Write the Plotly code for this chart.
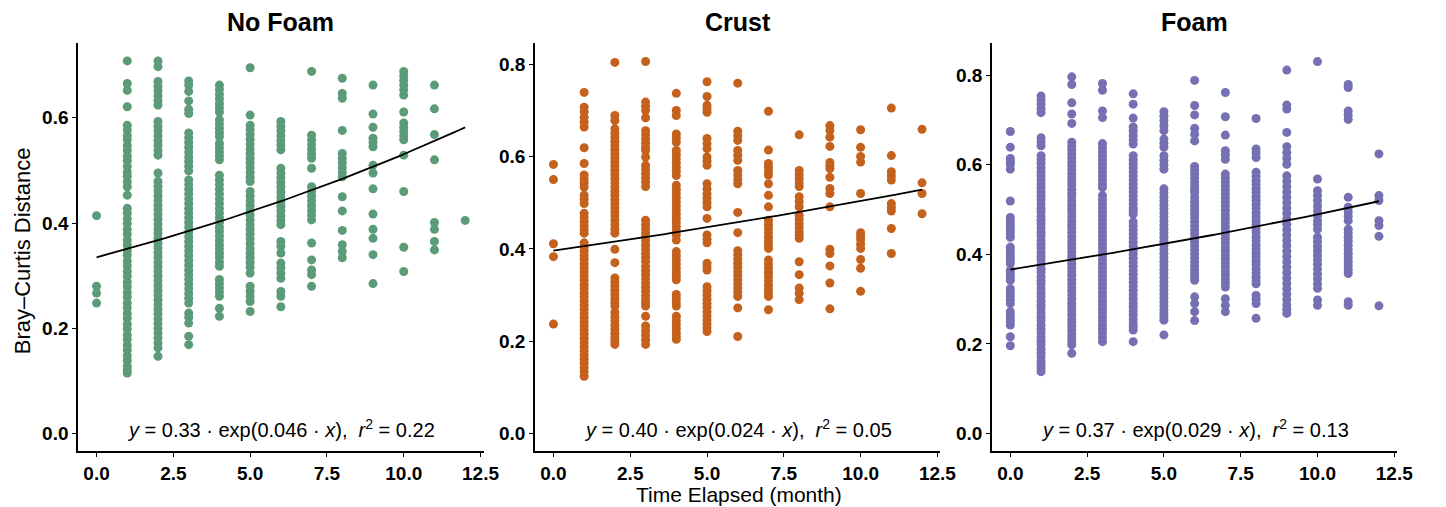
import numpy as np
import plotly.graph_objects as go

# ---------------- data ----------------
months = [0, 1, 2, 3, 4, 5, 6, 7, 8, 9, 10, 11, 12]

nofoam_dist = [
    [0.414, 0.280, 0.267, 0.248],
    [0.708, 0.665, 0.652, 0.621, 0.586, 0.577, 0.566, 0.558, 0.547, 0.538, 0.527, 0.519, 0.508, 0.497,
     0.489, 0.478, 0.469, 0.453, 0.428, 0.419, 0.408, 0.399, 0.388, 0.379, 0.368, 0.359, 0.348, 0.339,
     0.328, 0.319, 0.308, 0.299, 0.288, 0.279, 0.268, 0.259, 0.248, 0.239, 0.228, 0.219, 0.208, 0.199,
     0.188, 0.179, 0.168, 0.159, 0.148, 0.139, 0.128, 0.121, 0.115],
    [0.708, 0.697, 0.669, 0.660, 0.651, 0.642, 0.633, 0.624, 0.593, 0.584, 0.575, 0.566, 0.557, 0.548,
     0.538, 0.529, 0.495, 0.479, 0.470, 0.461, 0.452, 0.443, 0.434, 0.425, 0.416, 0.407, 0.398, 0.389,
     0.380, 0.371, 0.362, 0.353, 0.344, 0.335, 0.326, 0.317, 0.308, 0.299, 0.290, 0.281, 0.272, 0.263,
     0.254, 0.245, 0.236, 0.227, 0.218, 0.209, 0.200, 0.191, 0.182, 0.172, 0.163, 0.147],
    [0.670, 0.662, 0.650, 0.632, 0.616, 0.608, 0.571, 0.562, 0.553, 0.544, 0.535, 0.526, 0.517, 0.508,
     0.499, 0.482, 0.473, 0.464, 0.455, 0.446, 0.437, 0.428, 0.419, 0.410, 0.401, 0.392, 0.383, 0.374,
     0.365, 0.356, 0.347, 0.338, 0.329, 0.320, 0.311, 0.302, 0.293, 0.284, 0.275, 0.266, 0.257, 0.248,
     0.229, 0.221, 0.210, 0.185, 0.169],
    [0.662, 0.654, 0.645, 0.636, 0.627, 0.619, 0.611, 0.596, 0.588, 0.580, 0.572, 0.564, 0.551, 0.543,
     0.535, 0.527, 0.520, 0.491, 0.482, 0.473, 0.464, 0.455, 0.446, 0.437, 0.428, 0.419, 0.410, 0.401,
     0.392, 0.384, 0.375, 0.367, 0.359, 0.351, 0.343, 0.335, 0.326, 0.318, 0.293, 0.285, 0.277, 0.269,
     0.261, 0.238, 0.223],
    [0.695, 0.605, 0.586, 0.577, 0.568, 0.559, 0.550, 0.541, 0.532, 0.523, 0.514, 0.505, 0.496, 0.487,
     0.479, 0.460, 0.451, 0.442, 0.433, 0.424, 0.415, 0.406, 0.397, 0.388, 0.379, 0.370, 0.361, 0.352,
     0.343, 0.334, 0.325, 0.316, 0.305, 0.280, 0.270, 0.261, 0.251, 0.232],
    [0.593, 0.584, 0.575, 0.566, 0.557, 0.548, 0.539, 0.504, 0.495, 0.486, 0.477, 0.468, 0.459, 0.450,
     0.441, 0.432, 0.423, 0.414, 0.405, 0.397, 0.365, 0.356, 0.343, 0.324, 0.315, 0.305, 0.295, 0.270,
     0.261, 0.241],
    [0.688, 0.567, 0.558, 0.549, 0.540, 0.531, 0.523, 0.504, 0.469, 0.460, 0.451, 0.442, 0.433, 0.424,
     0.415, 0.406, 0.362, 0.330, 0.311, 0.302, 0.280],
    [0.675, 0.646, 0.637, 0.576, 0.532, 0.523, 0.514, 0.505, 0.496, 0.488, 0.450, 0.423, 0.386, 0.359,
     0.346, 0.334],
    [0.662, 0.607, 0.582, 0.561, 0.553, 0.545, 0.510, 0.495, 0.465, 0.417, 0.388, 0.371, 0.340, 0.285],
    [0.688, 0.680, 0.671, 0.662, 0.653, 0.643, 0.611, 0.590, 0.582, 0.574, 0.566, 0.558, 0.529, 0.460,
     0.354, 0.308],
    [0.662, 0.617, 0.568, 0.520, 0.401, 0.388, 0.365, 0.349],
    [0.405],
]

crust_dist = [
    [0.583, 0.550, 0.411, 0.383, 0.237],
    [0.739, 0.707, 0.697, 0.685, 0.675, 0.664, 0.619, 0.585, 0.560, 0.551, 0.543, 0.534, 0.516, 0.507,
     0.498, 0.477, 0.468, 0.459, 0.450, 0.442, 0.434, 0.413, 0.404, 0.395, 0.386, 0.377, 0.368, 0.359,
     0.350, 0.341, 0.332, 0.323, 0.314, 0.305, 0.296, 0.287, 0.278, 0.269, 0.260, 0.251, 0.242, 0.233,
     0.224, 0.215, 0.206, 0.197, 0.188, 0.179, 0.170, 0.161, 0.152, 0.143, 0.134, 0.124],
    [0.804, 0.689, 0.678, 0.660, 0.651, 0.642, 0.633, 0.624, 0.615, 0.606, 0.597, 0.588, 0.579, 0.570,
     0.561, 0.552, 0.543, 0.534, 0.525, 0.516, 0.507, 0.498, 0.489, 0.480, 0.471, 0.462, 0.452, 0.443,
     0.434, 0.399, 0.370, 0.337, 0.328, 0.319, 0.310, 0.301, 0.292, 0.284, 0.276, 0.262, 0.253, 0.244,
     0.235, 0.226, 0.217, 0.208, 0.200, 0.193],
    [0.806, 0.718, 0.709, 0.700, 0.684, 0.656, 0.647, 0.638, 0.629, 0.620, 0.613, 0.599, 0.581, 0.572,
     0.563, 0.554, 0.545, 0.535, 0.462, 0.453, 0.444, 0.435, 0.426, 0.417, 0.408, 0.399, 0.390, 0.381,
     0.373, 0.362, 0.353, 0.344, 0.335, 0.326, 0.317, 0.308, 0.299, 0.290, 0.283, 0.276, 0.254, 0.233,
     0.223, 0.213, 0.203, 0.193],
    [0.737, 0.700, 0.689, 0.649, 0.640, 0.631, 0.613, 0.604, 0.595, 0.586, 0.577, 0.568, 0.559, 0.538,
     0.529, 0.520, 0.511, 0.502, 0.493, 0.484, 0.475, 0.466, 0.457, 0.448, 0.439, 0.430, 0.419, 0.394,
     0.385, 0.376, 0.367, 0.358, 0.349, 0.341, 0.333, 0.301, 0.292, 0.284, 0.276, 0.254, 0.245, 0.236,
     0.227, 0.218, 0.211, 0.204],
    [0.762, 0.730, 0.711, 0.703, 0.696, 0.639, 0.628, 0.617, 0.599, 0.590, 0.581, 0.541, 0.530, 0.519,
     0.509, 0.500, 0.491, 0.466, 0.430, 0.421, 0.413, 0.369, 0.361, 0.354, 0.318, 0.309, 0.300, 0.291,
     0.282, 0.273, 0.264, 0.255, 0.246, 0.237, 0.229, 0.221],
    [0.759, 0.655, 0.645, 0.635, 0.613, 0.603, 0.592, 0.570, 0.560, 0.550, 0.541, 0.479, 0.435, 0.396,
     0.387, 0.378, 0.369, 0.360, 0.351, 0.342, 0.333, 0.324, 0.315, 0.306, 0.297, 0.272, 0.210],
    [0.698, 0.614, 0.585, 0.577, 0.568, 0.560, 0.541, 0.516, 0.491, 0.462, 0.453, 0.444, 0.435, 0.426,
     0.417, 0.409, 0.401, 0.376, 0.367, 0.358, 0.349, 0.340, 0.331, 0.322, 0.313, 0.305, 0.297, 0.268],
    [0.647, 0.570, 0.561, 0.552, 0.543, 0.535, 0.513, 0.502, 0.491, 0.473, 0.464, 0.455, 0.446, 0.437,
     0.429, 0.423, 0.372, 0.344, 0.315, 0.304, 0.290],
    [0.667, 0.657, 0.642, 0.622, 0.587, 0.580, 0.574, 0.555, 0.531, 0.520, 0.491, 0.399, 0.390, 0.363,
     0.326, 0.270],
    [0.658, 0.620, 0.600, 0.588, 0.520, 0.435, 0.427, 0.420, 0.410, 0.401, 0.377, 0.358, 0.308],
    [0.705, 0.602, 0.567, 0.558, 0.549, 0.498, 0.490, 0.482, 0.444, 0.390],
    [0.659, 0.543, 0.520, 0.476],
]

foam_dist = [
    [0.674, 0.639, 0.614, 0.607, 0.601, 0.590, 0.519, 0.482, 0.475, 0.467, 0.460, 0.452, 0.445, 0.438,
     0.416, 0.408, 0.401, 0.393, 0.386, 0.379, 0.364, 0.357, 0.349, 0.342, 0.323, 0.315, 0.307, 0.298,
     0.290, 0.272, 0.264, 0.256, 0.249, 0.242, 0.216, 0.196],
    [0.753, 0.744, 0.735, 0.725, 0.716, 0.660, 0.651, 0.642, 0.620, 0.611, 0.603, 0.593, 0.584, 0.576,
     0.566, 0.557, 0.549, 0.539, 0.530, 0.522, 0.512, 0.503, 0.495, 0.485, 0.476, 0.468, 0.458, 0.449,
     0.441, 0.431, 0.422, 0.414, 0.404, 0.395, 0.387, 0.377, 0.368, 0.360, 0.350, 0.341, 0.333, 0.323,
     0.314, 0.306, 0.296, 0.287, 0.279, 0.269, 0.260, 0.252, 0.242, 0.233, 0.225, 0.215, 0.206, 0.198,
     0.188, 0.179, 0.171, 0.161, 0.153, 0.146, 0.138],
    [0.796, 0.779, 0.738, 0.713, 0.692, 0.650, 0.641, 0.633, 0.624, 0.615, 0.606, 0.598, 0.589, 0.580,
     0.571, 0.563, 0.554, 0.545, 0.536, 0.528, 0.519, 0.510, 0.501, 0.493, 0.484, 0.475, 0.466, 0.458,
     0.449, 0.440, 0.431, 0.423, 0.414, 0.405, 0.396, 0.388, 0.379, 0.370, 0.361, 0.353, 0.344, 0.335,
     0.326, 0.318, 0.309, 0.300, 0.291, 0.283, 0.274, 0.265, 0.256, 0.248, 0.239, 0.230, 0.221, 0.213,
     0.205, 0.198, 0.179],
    [0.781, 0.766, 0.720, 0.705, 0.647, 0.638, 0.629, 0.620, 0.611, 0.602, 0.593, 0.584, 0.575, 0.566,
     0.557, 0.549, 0.531, 0.522, 0.513, 0.504, 0.495, 0.486, 0.477, 0.468, 0.459, 0.450, 0.441, 0.432,
     0.423, 0.414, 0.405, 0.396, 0.387, 0.378, 0.369, 0.360, 0.351, 0.342, 0.333, 0.324, 0.315, 0.306,
     0.297, 0.288, 0.279, 0.270, 0.261, 0.252, 0.243, 0.234, 0.225, 0.215, 0.205],
    [0.758, 0.735, 0.704, 0.684, 0.675, 0.665, 0.655, 0.646, 0.620, 0.611, 0.602, 0.593, 0.584, 0.575,
     0.566, 0.557, 0.548, 0.539, 0.530, 0.521, 0.512, 0.503, 0.496, 0.490, 0.472, 0.463, 0.454, 0.445,
     0.436, 0.427, 0.418, 0.409, 0.400, 0.391, 0.382, 0.373, 0.364, 0.355, 0.346, 0.337, 0.328, 0.319,
     0.310, 0.301, 0.292, 0.283, 0.274, 0.265, 0.256, 0.247, 0.239, 0.231, 0.205],
    [0.718, 0.708, 0.698, 0.687, 0.676, 0.657, 0.648, 0.639, 0.620, 0.610, 0.600, 0.590, 0.546, 0.537,
     0.528, 0.519, 0.510, 0.501, 0.492, 0.483, 0.474, 0.465, 0.456, 0.447, 0.438, 0.429, 0.420, 0.411,
     0.402, 0.393, 0.384, 0.375, 0.366, 0.357, 0.348, 0.339, 0.330, 0.321, 0.312, 0.303, 0.294, 0.285,
     0.276, 0.268, 0.260, 0.253, 0.220],
    [0.788, 0.732, 0.711, 0.681, 0.668, 0.653, 0.596, 0.587, 0.578, 0.569, 0.560, 0.551, 0.544, 0.538,
     0.527, 0.518, 0.509, 0.500, 0.491, 0.482, 0.473, 0.464, 0.455, 0.446, 0.437, 0.428, 0.419, 0.410,
     0.401, 0.392, 0.383, 0.374, 0.365, 0.356, 0.349, 0.342, 0.305, 0.290, 0.272, 0.252],
    [0.761, 0.707, 0.666, 0.631, 0.622, 0.612, 0.579, 0.570, 0.561, 0.552, 0.543, 0.534, 0.525, 0.516,
     0.507, 0.498, 0.489, 0.480, 0.471, 0.462, 0.453, 0.444, 0.435, 0.426, 0.417, 0.408, 0.399, 0.390,
     0.381, 0.372, 0.363, 0.354, 0.345, 0.336, 0.327, 0.301, 0.286, 0.272],
    [0.703, 0.635, 0.626, 0.616, 0.583, 0.574, 0.565, 0.556, 0.547, 0.538, 0.529, 0.520, 0.511, 0.502,
     0.493, 0.484, 0.475, 0.466, 0.457, 0.448, 0.439, 0.430, 0.421, 0.412, 0.403, 0.394, 0.385, 0.376,
     0.367, 0.358, 0.349, 0.341, 0.334, 0.308, 0.299, 0.290, 0.257],
    [0.811, 0.733, 0.724, 0.672, 0.640, 0.627, 0.614, 0.601, 0.575, 0.563, 0.551, 0.539, 0.527, 0.515,
     0.503, 0.491, 0.479, 0.467, 0.455, 0.443, 0.431, 0.419, 0.407, 0.395, 0.383, 0.371, 0.359, 0.347,
     0.335, 0.323, 0.311, 0.299, 0.287, 0.277, 0.268],
    [0.830, 0.568, 0.542, 0.531, 0.520, 0.508, 0.497, 0.486, 0.475, 0.466, 0.456, 0.438, 0.428, 0.418,
     0.408, 0.398, 0.388, 0.378, 0.367, 0.356, 0.345, 0.334, 0.324, 0.298, 0.286],
    [0.779, 0.772, 0.720, 0.710, 0.701, 0.527, 0.505, 0.495, 0.485, 0.475, 0.456, 0.447, 0.438, 0.429,
     0.420, 0.411, 0.402, 0.393, 0.384, 0.375, 0.366, 0.357, 0.294, 0.286],
    [0.624, 0.531, 0.520, 0.475, 0.464, 0.440, 0.285],
]

panel_titles = ["No Foam", "Crust", "Foam"]
panel_colors = ["#5b9b78", "#c4611c", "#7570b1"]
fit_a = [0.335, 0.396, 0.366]          # fitted exp-model coefficients
fit_b = [0.046, 0.024, 0.029]
eq_a_text = ["0.33", "0.40", "0.37"]
eq_b_text = ["0.046", "0.024", "0.029"]
r2_text = ["0.22", "0.05", "0.13"]
y_ranges = [[-0.033, 0.742], [-0.038, 0.846], [-0.039, 0.8715]]
y_ticks = [[0.0, 0.2, 0.4, 0.6], [0.0, 0.2, 0.4, 0.6, 0.8], [0.0, 0.2, 0.4, 0.6, 0.8]]
x_ticks = [0.0, 2.5, 5.0, 7.5, 10.0, 12.5]

# ---------------- figure ----------------
W, H = 1446, 507
panel_px = [(79, 489), (541, 951), (1003, 1413)]
top_px, bot_px = 43, 451
ydom = [1 - bot_px / H, 1 - top_px / H]

FONT = "Liberation Sans, Arial, Helvetica, sans-serif"
fig = go.Figure()
all_data = [nofoam_dist, crust_dist, foam_dist]

for i in range(3):
    xs, ys = [], []
    for m, vals in zip(months, all_data[i]):
        xs += [m] * len(vals)
        ys += vals
    xa = "x" if i == 0 else f"x{i+1}"
    ya = "y" if i == 0 else f"y{i+1}"
    fig.add_trace(go.Scatter(x=xs, y=ys, mode="markers", xaxis=xa, yaxis=ya,
                             marker=dict(size=9, color=panel_colors[i], line=dict(width=0)),
                             showlegend=False, hoverinfo="skip"))
    xl = np.linspace(min(months), max(months), 100)
    yl = fit_a[i] * np.exp(fit_b[i] * xl)
    fig.add_trace(go.Scatter(x=xl, y=yl, mode="lines", xaxis=xa, yaxis=ya,
                             line=dict(color="black", width=1.8), showlegend=False,
                             hoverinfo="skip"))

    axis_common = dict(showline=True, linecolor="black", linewidth=1.6, ticks="outside",
                       ticklen=4, tickwidth=1.4, tickcolor="black", showgrid=False,
                       zeroline=False,
                       tickfont=dict(family=FONT, size=19, color="black", weight="bold"))
    x0, x1 = panel_px[i]
    xkey = "xaxis" if i == 0 else f"xaxis{i+1}"
    ykey = "yaxis" if i == 0 else f"yaxis{i+1}"
    fig.update_layout(**{
        xkey: dict(domain=[x0 / W, x1 / W], range=[-0.6, 12.6], anchor=ya,
                   tickvals=x_ticks, ticktext=[f"{v:.1f}" for v in x_ticks],
                   **axis_common),
        ykey: dict(domain=ydom, range=y_ranges[i], anchor=xa,
                   tickvals=y_ticks[i], ticktext=[f"{v:.1f}" for v in y_ticks[i]],
                   **axis_common),
    })
    cx = (x0 + x1) / 2 / W
    fig.add_annotation(x=cx, y=1 - 22 / H, xref="paper", yref="paper",
                       text=f"<b>{panel_titles[i]}</b>", showarrow=False,
                       font=dict(family=FONT, size=25, color="black"),
                       xanchor="center", yanchor="middle")
    eq = (f"<i>y</i> = {eq_a_text[i]} · exp({eq_b_text[i]} · <i>x</i>),  "
          f"<i>r</i><sup>2</sup> = {r2_text[i]}")
    fig.add_annotation(x=cx, y=1 - 428 / H, xref="paper", yref="paper", text=eq,
                       showarrow=False, font=dict(family=FONT, size=20, color="black"),
                       xanchor="center", yanchor="middle")

fig.add_annotation(x=747 / W, y=0, xref="paper", yref="paper",
                   text="Time Elapsed (month)", showarrow=False,
                   font=dict(family=FONT, size=21, color="black"),
                   xanchor="center", yanchor="bottom", borderpad=0)
fig.add_annotation(x=22.5 / W, y=1 - 251 / H, xref="paper", yref="paper",
                   text="Bray–Curtis Distance", showarrow=False, textangle=-90,
                   font=dict(family=FONT, size=22, color="black"),
                   xanchor="center", yanchor="middle")

fig.update_layout(width=W, height=H, margin=dict(l=0, r=0, t=0, b=0),
                  plot_bgcolor="white", paper_bgcolor="white", showlegend=False)

fig.write_html("out.html")
